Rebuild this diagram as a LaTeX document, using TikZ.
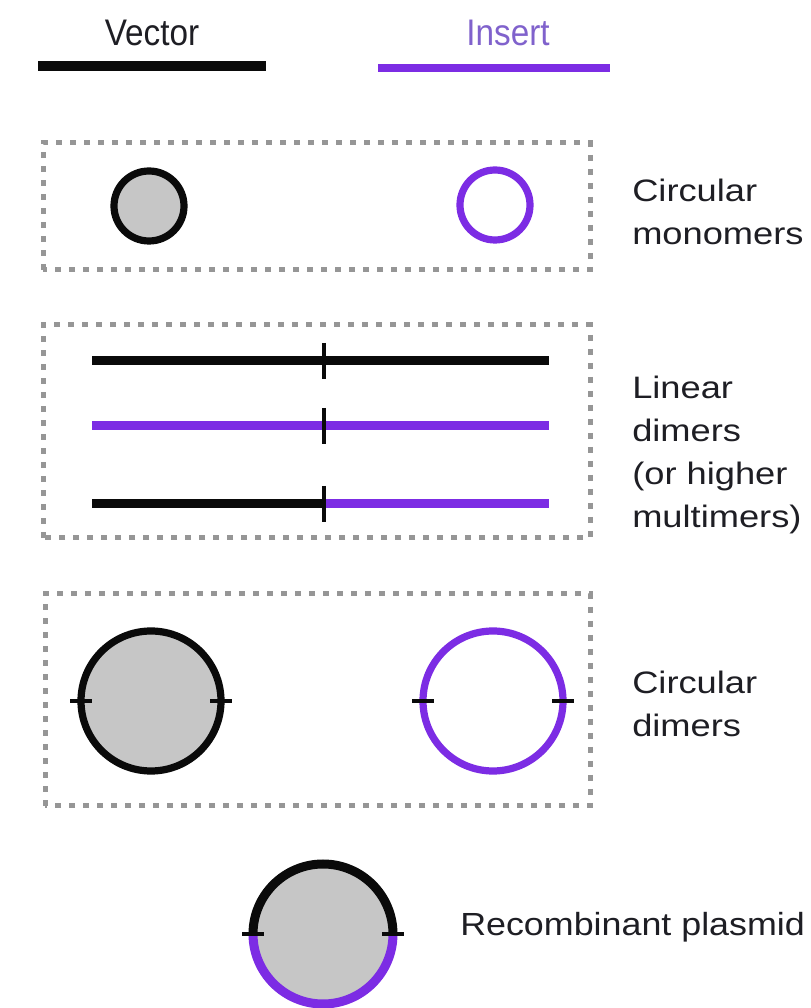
\documentclass[tikz,border=0pt]{standalone}
\usepackage{fontspec}
\usetikzlibrary{calc}
\setmainfont{Liberation Sans}
\newfontfamily\headfont[FakeStretch=0.9]{Liberation Sans}
\newfontfamily\labelfont[FakeStretch=1.17]{Liberation Sans}
\newfontfamily\plasmidfont[FakeStretch=1.12]{Liberation Sans}

\definecolor{vecblack}{RGB}{10,10,10}
\definecolor{inspurple}{RGB}{124,44,228}
\definecolor{instext}{RGB}{128,98,204}
\definecolor{dnafill}{RGB}{198,198,198}
\definecolor{boxgray}{RGB}{150,150,150}
\definecolor{labeltext}{RGB}{30,30,36}

\tikzset{
  vecbar/.style={draw=vecblack, line width=7.5pt},
  insbar/.style={draw=inspurple, line width=6pt},
  vecline/.style={draw=vecblack, line width=6.75pt},
  insline/.style={draw=inspurple, line width=6.75pt},
  dotbox/.style={draw=boxgray, line width=3.75pt, dash pattern=on 4.5pt off 6pt},
  vecring/.style={circle, draw=vecblack, fill=dnafill, line width=5.4pt, inner sep=0pt, outer sep=0pt},
  insring/.style={circle, draw=inspurple, line width=5.4pt, inner sep=0pt, outer sep=0pt},
  plasmid/.style={circle, fill=dnafill, inner sep=0pt, outer sep=0pt},
  linetick/.style={draw=vecblack, line width=2.4pt},
  ringtick/.style={draw=vecblack, line width=3pt},
  sidelabel/.style={anchor=west, align=left, text=labeltext, inner sep=0pt,
    font=\labelfont\fontsize{23.25pt}{32.25pt}\selectfont},
  headlabel/.style={inner sep=0pt, font=\headfont\fontsize{27.75pt}{32pt}\selectfont},
}

\begin{document}
\begin{tikzpicture}[x=0.75pt, y=0.75pt]
  \fill[white] (0,0) rectangle (811,1008);
  \useasboundingbox (0,0) rectangle (811,1008);

  % legend
  \node[headlabel, text=labeltext] (vtext) at (152,975) {Vector};
  \node[headlabel, text=instext] (itext) at (508,975) {Insert};
  \coordinate (vbl) at (38,942);
  \coordinate (vbr) at (266,942);
  \coordinate (ibl) at (378,940);
  \coordinate (ibr) at (610,940);
  \draw[vecbar] (vbl) -- (vbr);
  \draw[insbar] (ibl) -- (ibr);

  % circular monomers
  \coordinate (b1sw) at (43,738);
  \coordinate (b1ne) at (590,865);
  \draw[dotbox] (b1sw) rectangle (b1ne);
  \node[vecring, minimum size=52.5pt] (mvec) at (149,802) {};
  \node[insring, minimum size=52.5pt] (mins) at (495,803) {};
  \node[sidelabel] (lab1) at (632,796) {Circular\\monomers};

  % linear dimers
  \coordinate (b2sw) at (43,470);
  \coordinate (b2ne) at (590,683);
  \draw[dotbox] (b2sw) rectangle (b2ne);
  \coordinate (la1) at (92,647);  \coordinate (lm1) at (324,647);  \coordinate (lb1) at (549,647);
  \coordinate (la2) at (92,582);  \coordinate (lm2) at (324,582);  \coordinate (lb2) at (549,582);
  \coordinate (la3) at (92,504);  \coordinate (lm3) at (324,504);  \coordinate (lb3) at (549,504);
  \draw[vecline] (la1) -- (lb1);
  \draw[insline] (la2) -- (lb2);
  \draw[vecline] (la3) -- (lm3);
  \draw[insline] (lm3) -- (lb3);
  \foreach \m in {lm1,lm2,lm3}
    \draw[linetick] ($(\m)+(0,18)$) -- ($(\m)+(0,-18)$);
  \node[sidelabel] (lab2) at (632,553) {Linear\\dimers\\(or higher\\multimers)};

  % circular dimers
  \coordinate (b3sw) at (45,202);
  \coordinate (b3ne) at (590,414);
  \draw[dotbox] (b3sw) rectangle (b3ne);
  \node[vecring, minimum size=105pt] (dvec) at (151,307) {};
  \node[insring, minimum size=105pt] (dins) at (493,307) {};
  \foreach \n in {dvec,dins} {
    \draw[ringtick] ($(\n.west)+(-11,0)$) -- ($(\n.west)+(11,0)$);
    \draw[ringtick] ($(\n.east)+(-11,0)$) -- ($(\n.east)+(11,0)$);
  }
  \node[sidelabel] (lab3) at (632,304) {Circular\\dimers};

  % recombinant plasmid
  \node[plasmid, minimum size=105pt] (rec) at (323,74) {};
  \draw[vecline] (rec.west) arc[start angle=180, end angle=0, radius=52.5pt];
  \draw[insline] (rec.west) arc[start angle=180, end angle=360, radius=52.5pt];
  \draw[ringtick] ($(rec.west)+(-11,0)$) -- ($(rec.west)+(11,0)$);
  \draw[ringtick] ($(rec.east)+(-11,0)$) -- ($(rec.east)+(11,0)$);
  \node[anchor=west, inner sep=0pt, text=labeltext,
    font=\plasmidfont\fontsize{24pt}{30pt}\selectfont] (lab4) at (460,81) {Recombinant plasmid};
\end{tikzpicture}
\end{document}
